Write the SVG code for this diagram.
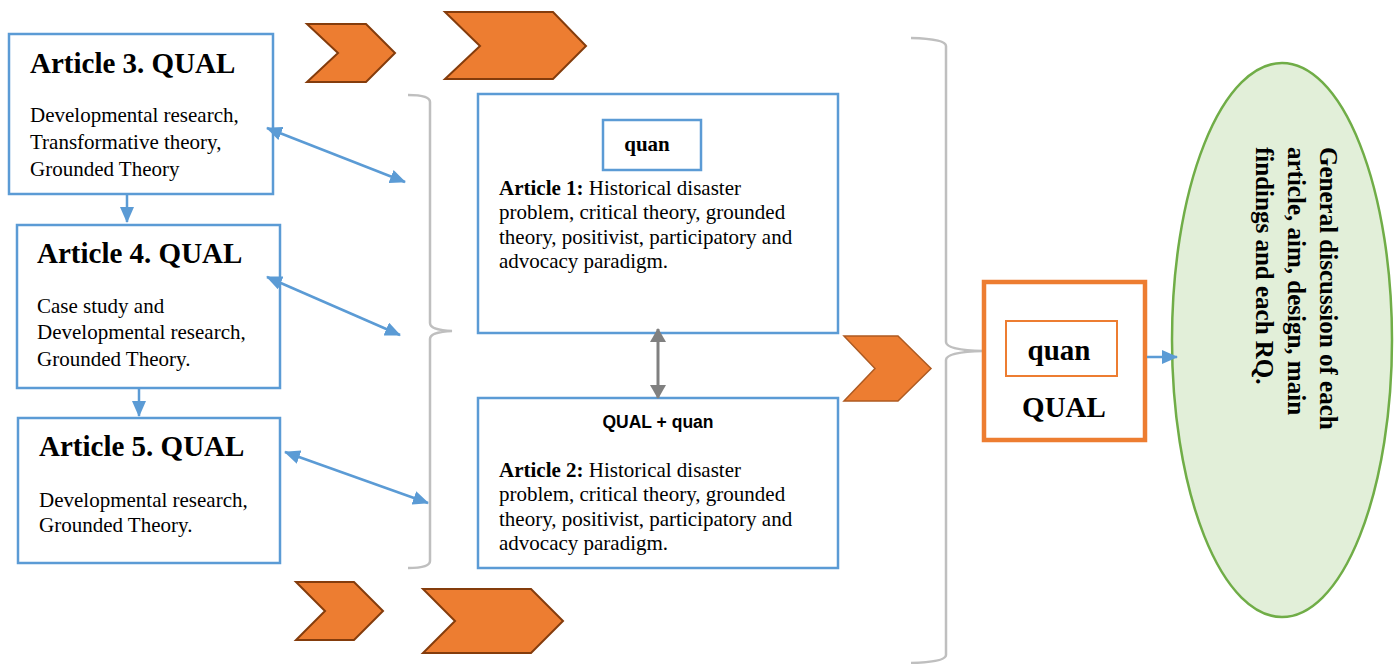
<svg xmlns="http://www.w3.org/2000/svg" width="1400" height="664" viewBox="0 0 1400 664">
<style>
.box{fill:#fff;stroke:#5B9BD5;stroke-width:2.5}
.chev{fill:#ED7D31;stroke:#843C0C;stroke-width:2}
.brace{fill:none;stroke:#BFBFBF;stroke-width:2.5}
.blue{stroke:#5B9BD5;stroke-width:2.5;fill:none}
.gray{stroke:#808080;stroke-width:3;fill:none}
.title{font-family:"Liberation Serif","Times New Roman",serif;font-weight:bold;font-size:29px;fill:#000}
.body{font-family:"Liberation Serif","Times New Roman",serif;font-size:21px;fill:#000}
.b{font-weight:bold}
.sans{font-family:"Liberation Sans",Arial,sans-serif;font-weight:bold;font-size:17.5px;fill:#000}
</style>
<defs>
<marker id="ab" viewBox="0 0 16 14" refX="15" refY="7" markerWidth="16" markerHeight="14" markerUnits="userSpaceOnUse" orient="auto-start-reverse"><path d="M0,0 L16,7 L0,14 Z" fill="#5B9BD5"/></marker>
<marker id="ag" viewBox="0 0 14 16" refX="13" refY="8" markerWidth="14" markerHeight="16" markerUnits="userSpaceOnUse" orient="auto-start-reverse"><path d="M0,0 L14,8 L0,16 Z" fill="#808080"/></marker>
</defs>

<g id="chevrons">
<polygon class="chev" points="307,24 366,24 395,53 366,82 307,82 338,53"/>
<polygon class="chev" points="445,12 553,12 586,46 553,79 445,79 480,46"/>
<polygon class="chev" points="296,582 354,582 383,611 354,640 296,640 325,611"/>
<polygon class="chev" points="423,589 531,589 563,621 531,653 423,653 455,621"/>
<polygon class="chev" style="stroke:#AE5A21;stroke-width:1.5" points="844,336 898,336 931,368.5 898,401 844,401 875,368.5"/>
</g>

<g id="braces">
<path class="brace" d="M408,95 Q430,95 430,102 L430,323 Q430,330 452,331 Q430,332 430,339 L430,561 Q430,568 408,568"/>
<path class="brace" d="M911,38 Q946,39 946,46 L946,342 Q946,350 983,351 Q946,352 946,360 L946,655 Q946,662 911,663"/>
</g>

<g id="article3">
<rect class="box" x="9" y="34" width="264" height="160"/>
<text class="title" x="30" y="73">Article 3. QUAL</text>
<text class="body" x="30" y="122">Developmental research,</text>
<text class="body" x="30" y="149">Transformative theory,</text>
<text class="body" x="30" y="176">Grounded Theory</text>
</g>

<g id="article4">
<rect class="box" x="17" y="225" width="263" height="163"/>
<text class="title" x="37" y="263">Article 4. QUAL</text>
<text class="body" x="37" y="313">Case study and</text>
<text class="body" x="37" y="339">Developmental research,</text>
<text class="body" x="37" y="366">Grounded Theory.</text>
</g>

<g id="article5">
<rect class="box" x="18" y="418" width="262" height="145"/>
<text class="title" x="39" y="456">Article 5. QUAL</text>
<text class="body" x="39" y="507">Developmental research,</text>
<text class="body" x="39" y="532">Grounded Theory.</text>
</g>

<g id="article1">
<rect class="box" x="478" y="94" width="360" height="239"/>
<rect class="box" x="603" y="120" width="98" height="50"/>
<text class="body b" x="647" y="151" text-anchor="middle">quan</text>
<text class="body" x="499" y="195"><tspan class="b">Article 1:</tspan> Historical disaster</text>
<text class="body" x="499" y="219">problem, critical theory, grounded</text>
<text class="body" x="499" y="244">theory, positivist, participatory and</text>
<text class="body" x="499" y="268">advocacy paradigm.</text>
</g>

<g id="article2">
<rect class="box" x="478" y="398" width="360" height="170"/>
<text class="sans" x="658" y="428" text-anchor="middle">QUAL + quan</text>
<text class="body" x="499" y="477"><tspan class="b">Article 2:</tspan> Historical disaster</text>
<text class="body" x="499" y="501">problem, critical theory, grounded</text>
<text class="body" x="499" y="526">theory, positivist, participatory and</text>
<text class="body" x="499" y="550">advocacy paradigm.</text>
</g>

<g id="mixed">
<rect x="984" y="282" width="161" height="158" fill="#fff" stroke="#ED7D31" stroke-width="4.5"/>
<rect x="1006" y="321" width="111" height="55" fill="#fff" stroke="#ED7D31" stroke-width="2"/>
<text class="title" x="1059" y="360" text-anchor="middle">quan</text>
<text class="title" x="1064" y="417" text-anchor="middle">QUAL</text>
</g>

<g id="discussion">
<ellipse cx="1282" cy="340" rx="110" ry="277" fill="#E2EFD9" stroke="#70AD47" stroke-width="2.5"/>
<text class="title" style="font-size:25px" transform="translate(1320,147) rotate(90)"><tspan x="0" y="0">General discussion of each</tspan><tspan x="0" y="32">article, aim, design, main</tspan><tspan x="0" y="64">findings and each RQ.</tspan></text>
</g>

<g id="connectors">
<line class="blue" x1="267" y1="128" x2="405" y2="182" marker-start="url(#ab)" marker-end="url(#ab)"/>
<line class="blue" x1="267" y1="277" x2="400" y2="335" marker-start="url(#ab)" marker-end="url(#ab)"/>
<line class="blue" x1="285" y1="452" x2="428" y2="503" marker-start="url(#ab)" marker-end="url(#ab)"/>
<line class="blue" x1="127" y1="195" x2="127" y2="222" marker-end="url(#ab)"/>
<line class="blue" x1="139" y1="389" x2="139" y2="416" marker-end="url(#ab)"/>
<line class="blue" x1="1147" y1="357" x2="1177" y2="357" marker-end="url(#ab)"/>
<line class="gray" x1="658" y1="329" x2="658" y2="398" marker-start="url(#ag)" marker-end="url(#ag)"/>
</g>
</svg>
